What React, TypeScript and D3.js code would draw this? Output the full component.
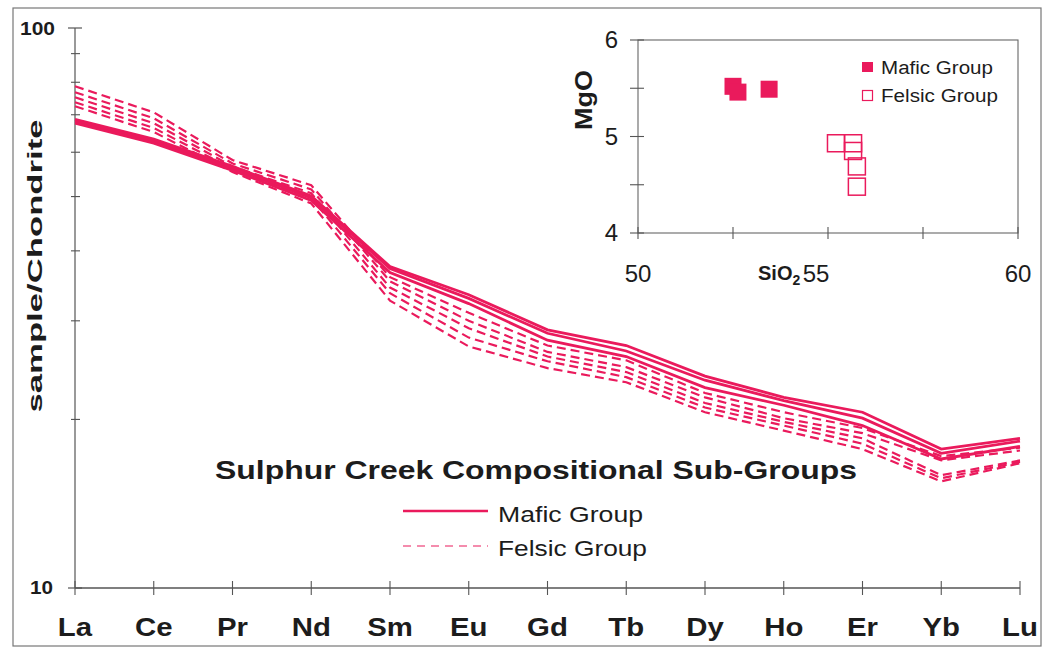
import React from 'react';
import * as d3 from 'd3';

const elements = ['La', 'Ce', 'Pr', 'Nd', 'Sm', 'Eu', 'Gd', 'Tb', 'Dy', 'Ho', 'Er', 'Yb', 'Lu'];

const mafic1 = [68.7, 63.3, 56.6, 50.1, 37.5, 33.4, 28.9, 27.1, 23.9, 21.9, 20.6, 17.7, 18.5];
const mafic2 = [68.2, 62.8, 56.2, 49.7, 37.2, 32.9, 28.5, 26.5, 23.5, 21.6, 20.1, 17.4, 18.3];
const mafic3 = [67.6, 62.3, 55.7, 49.2, 36.6, 32.2, 27.7, 25.9, 22.8, 21.2, 19.5, 17.0, 17.9];

const felsic1 = [78.7, 70.7, 58.1, 52.4, 35.9, 31.0, 27.1, 25.5, 22.3, 20.6, 19.3, 17.2, 17.8];
const felsic2 = [76.8, 69.0, 57.3, 51.5, 35.3, 30.0, 26.4, 24.8, 21.9, 20.1, 18.9, 16.9, 17.6];
const felsic3 = [75.2, 67.6, 56.6, 50.7, 34.4, 29.1, 25.9, 24.3, 21.4, 19.8, 18.5, 15.9, 16.9];
const felsic4 = [73.7, 66.3, 56.0, 49.7, 33.6, 28.0, 25.4, 23.8, 21.0, 19.5, 18.1, 15.7, 16.8];
const felsic5 = [72.5, 65.2, 55.3, 48.6, 32.6, 27.0, 24.7, 23.3, 20.6, 19.1, 17.7, 15.5, 16.7];

const maficSeries = [mafic1, mafic2, mafic3];
const felsicSeries = [felsic1, felsic2, felsic3, felsic4, felsic5];

const yMajorTicks = [10, 100];
const yMinorTicks = [20, 30, 40, 50, 60, 70, 80, 90];

// Inset: MgO vs SiO2
const maficSiO2 = [52.5, 52.63, 53.45];
const maficMgO = [5.52, 5.46, 5.49];
const felsicSiO2 = [55.21, 55.66, 55.66, 55.76, 55.76];
const felsicMgO = [4.93, 4.93, 4.85, 4.69, 4.48];
const insetXTicks = [50, 55, 60];
const insetXMinor = [52.5, 57.5];
const insetYTicks = [4, 5, 6];
const insetYMinor = [4.5, 5.5];

const RED = '#EA1A5C';
const INK = '#1c1c1c';
const AXIS = '#555';
const FONT = "Arial, 'Liberation Sans', Helvetica, sans-serif";

export default function App() {
  const x = d3.scalePoint<string>().domain(elements).range([75, 1020]);
  const y = d3.scaleLog().domain([10, 100]).range([588, 28]);

  const line = d3
    .line<number>()
    .x((_, i) => x(elements[i]) as number)
    .y((d) => y(d));

  const ix = d3.scaleLinear().domain([50, 60]).range([638, 1018]);
  const iy = d3.scaleLinear().domain([4, 6]).range([233, 40]);

  const sq = 17;

  return (
    <svg
      width={1044}
      height={649}
      style={{ position: 'absolute', left: 0, top: 0, background: '#fff' }}
      fontFamily={FONT}
    >
      <rect x={0} y={0} width={1044} height={649} fill="#fff" />
      {/* outer frame */}
      <rect x={13} y={8} width={1028} height={638} fill="none" stroke="#777" strokeWidth={1.2} />

      {/* main axes */}
      <line x1={75} x2={75} y1={y(100)} y2={y(10)} stroke={AXIS} strokeWidth={1.2} />
      <line x1={75} x2={1020} y1={y(10)} y2={y(10)} stroke={AXIS} strokeWidth={1.5} />
      {yMajorTicks.map((t) => (
        <line key={'ym' + t} x1={68} x2={82} y1={y(t)} y2={y(t)} stroke={AXIS} strokeWidth={1.2} />
      ))}
      {yMinorTicks.map((t) => (
        <line key={'yn' + t} x1={71} x2={80} y1={y(t)} y2={y(t)} stroke={AXIS} strokeWidth={1.1} />
      ))}
      {elements.map((e) => (
        <line
          key={'xt' + e}
          x1={x(e) as number}
          x2={x(e) as number}
          y1={y(10) - 7}
          y2={y(10) + 7}
          stroke={AXIS}
          strokeWidth={1.1}
        />
      ))}

      {/* y tick labels */}
      <text x={55} y={35} textAnchor="end" fontSize={18} fontWeight="bold" fill={INK} textLength={35} lengthAdjust="spacingAndGlyphs">
        100
      </text>
      <text x={53} y={594} textAnchor="end" fontSize={18} fontWeight="bold" fill={INK} textLength={23} lengthAdjust="spacingAndGlyphs">
        10
      </text>

      {/* x tick labels */}
      {elements.map((e) => (
        <text
          key={'xl' + e}
          transform={`translate(${x(e)},636) scale(1.13,1)`}
          textAnchor="middle"
          fontSize={26}
          fontWeight="bold"
          fill={INK}
        >
          {e}
        </text>
      ))}

      {/* y axis title */}
      <text
        transform="translate(42,266) rotate(-90)"
        textAnchor="middle"
        fontSize={20}
        fontWeight="bold"
        fill={INK}
        textLength={293}
        lengthAdjust="spacingAndGlyphs"
      >
        sample/Chondrite
      </text>

      {/* series */}
      {felsicSeries.map((s, i) => (
        <path key={'f' + i} d={line(s) as string} fill="none" stroke={RED} strokeWidth={2.2} strokeDasharray="9,5" />
      ))}
      {maficSeries.map((s, i) => (
        <path key={'m' + i} d={line(s) as string} fill="none" stroke={RED} strokeWidth={2.8} />
      ))}

      {/* title + legend */}
      <text x={215} y={479} fontSize={25} fontWeight="bold" fill={INK} textLength={642} lengthAdjust="spacingAndGlyphs">
        Sulphur Creek Compositional Sub-Groups
      </text>
      <line x1={403} x2={488} y1={511} y2={511} stroke={RED} strokeWidth={2.5} />
      <text x={498} y={522} fontSize={22} fill={INK} textLength={145} lengthAdjust="spacingAndGlyphs">
        Mafic Group
      </text>
      <line x1={403} x2={488} y1={546} y2={546} stroke={RED} strokeWidth={1.2} strokeDasharray="8,6" />
      <text x={498} y={556} fontSize={22} fill={INK} textLength={149} lengthAdjust="spacingAndGlyphs">
        Felsic Group
      </text>

      {/* inset */}
      <rect x={ix(50)} y={iy(6)} width={ix(60) - ix(50)} height={iy(4) - iy(6)} fill="#fff" stroke="#666" strokeWidth={1.1} />
      {insetYTicks.concat(insetYMinor).map((t) => (
        <line key={'iy' + t} x1={ix(50) - 8} x2={ix(50) + 6} y1={iy(t)} y2={iy(t)} stroke={AXIS} strokeWidth={1.1} />
      ))}
      {insetXTicks.concat(insetXMinor).map((t) => (
        <line key={'ix' + t} x1={ix(t)} x2={ix(t)} y1={iy(4) - 6} y2={iy(4) + 6} stroke={AXIS} strokeWidth={1.1} />
      ))}
      {insetYTicks.map((t) => (
        <text key={'iyl' + t} x={618} y={iy(t) + 8} textAnchor="end" fontSize={24} fill={INK}>
          {t}
        </text>
      ))}
      {insetXTicks.map((t) => (
        <text key={'ixl' + t} x={ix(t) + (t === 55 ? -12 : 0)} y={282} textAnchor="middle" fontSize={24} fill={INK}>
          {t}
        </text>
      ))}
      <text transform="translate(592,100) rotate(-90)" textAnchor="middle" fontSize={24} fontWeight="bold" fill={INK} textLength={60} lengthAdjust="spacingAndGlyphs">
        MgO
      </text>
      <text x={758} y={280} fontSize={20} fontWeight="bold" fill={INK}>
        SiO<tspan dy={5} fontSize={14}>2</tspan>
      </text>

      {felsicSiO2.map((v, i) => (
        <rect
          key={'fp' + i}
          x={ix(v) - sq / 2}
          y={iy(felsicMgO[i]) - sq / 2}
          width={sq}
          height={sq}
          fill="none"
          stroke={RED}
          strokeWidth={1.5}
        />
      ))}
      {maficSiO2.map((v, i) => (
        <rect key={'mp' + i} x={ix(v) - sq / 2} y={iy(maficMgO[i]) - sq / 2} width={sq} height={sq} fill={RED} />
      ))}

      {/* inset legend */}
      <rect x={862} y={62} width={11} height={10} fill={RED} />
      <text x={881} y={74} fontSize={18} fill={INK} textLength={112} lengthAdjust="spacingAndGlyphs">
        Mafic Group
      </text>
      <rect x={862.5} y={90.5} width={10} height={10} fill="none" stroke={RED} strokeWidth={1.2} />
      <text x={881} y={102} fontSize={18} fill={INK} textLength={117} lengthAdjust="spacingAndGlyphs">
        Felsic Group
      </text>
    </svg>
  );
}
